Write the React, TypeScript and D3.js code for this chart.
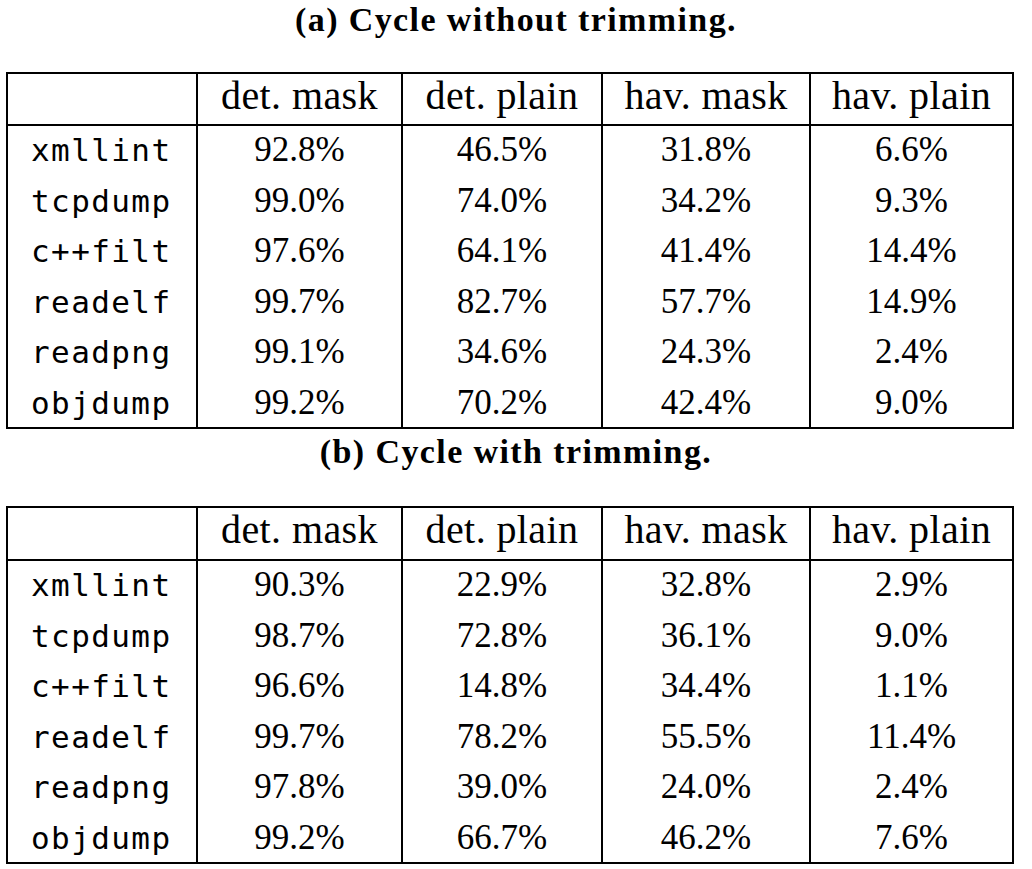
import React from "react";
import * as d3 from "d3";

const programs = ["xmllint", "tcpdump", "c++filt", "readelf", "readpng", "objdump"];
const columns = ["det. mask", "det. plain", "hav. mask", "hav. plain"];
const titleA = "(a) Cycle without trimming.";
const titleB = "(b) Cycle with trimming.";
const valuesA = [
  ["92.8%", "46.5%", "31.8%", "6.6%"],
  ["99.0%", "74.0%", "34.2%", "9.3%"],
  ["97.6%", "64.1%", "41.4%", "14.4%"],
  ["99.7%", "82.7%", "57.7%", "14.9%"],
  ["99.1%", "34.6%", "24.3%", "2.4%"],
  ["99.2%", "70.2%", "42.4%", "9.0%"],
];
const valuesB = [
  ["90.3%", "22.9%", "32.8%", "2.9%"],
  ["98.7%", "72.8%", "36.1%", "9.0%"],
  ["96.6%", "14.8%", "34.4%", "1.1%"],
  ["99.7%", "78.2%", "55.5%", "11.4%"],
  ["97.8%", "39.0%", "24.0%", "2.4%"],
  ["99.2%", "66.7%", "46.2%", "7.6%"],
];

const W = 1032;
const H = 869;
const colEdges = [7, 197, 402, 602, 810, 1013];
const serif = "'Liberation Serif', 'Times New Roman', serif";
const mono = "'DejaVu Sans Mono', monospace";

function Table({ title, titleY, top, headerBottom, bottom, values }: any) {
  const rowY = d3.scaleLinear().domain([0, programs.length]).range([headerBottom, bottom]);
  const stroke = "#000";
  const sw = 2;
  return (
    <g>
      <text x={W / 2} y={titleY} textAnchor="middle" fontFamily={serif} fontWeight="bold" fontSize={34} letterSpacing={1.4}>
        {title}
      </text>
      <rect x={colEdges[0]} y={top} width={colEdges[5] - colEdges[0]} height={bottom - top} fill="none" stroke={stroke} strokeWidth={sw} />
      <line x1={colEdges[0]} x2={colEdges[5]} y1={headerBottom} y2={headerBottom} stroke={stroke} strokeWidth={sw} />
      {colEdges.slice(1, 5).map((x, i) => (
        <line key={i} x1={x} x2={x} y1={top} y2={bottom} stroke={stroke} strokeWidth={sw} />
      ))}
      {columns.map((c, i) => (
        <text key={c} x={(colEdges[i + 1] + colEdges[i + 2]) / 2} y={top + 36} textAnchor="middle" fontFamily={serif} fontSize={40} letterSpacing={0.4}>
          {c}
        </text>
      ))}
      {programs.map((p, r) => {
        const yb = (rowY(r) + rowY(r + 1)) / 2 + 11;
        return (
          <g key={p}>
            <text x={31} y={yb} fontFamily={mono} fontSize={31} letterSpacing={1.4}>
              {p}
            </text>
            {values[r].map((v: string, i: number) => (
              <text key={i} x={(colEdges[i + 1] + colEdges[i + 2]) / 2} y={yb} textAnchor="middle" fontFamily={serif} fontSize={35}>
                {v}
              </text>
            ))}
          </g>
        );
      })}
    </g>
  );
}

export default function App() {
  return (
    <svg width={W} height={H} style={{ position: "absolute", left: 0, top: 0, background: "#fff" }}>
      <rect width={W} height={H} fill="#fff" />
      <Table title={titleA} titleY={31} top={73} headerBottom={125} bottom={428} values={valuesA} />
      <Table title={titleB} titleY={463} top={507} headerBottom={560} bottom={863} values={valuesB} />
    </svg>
  );
}
